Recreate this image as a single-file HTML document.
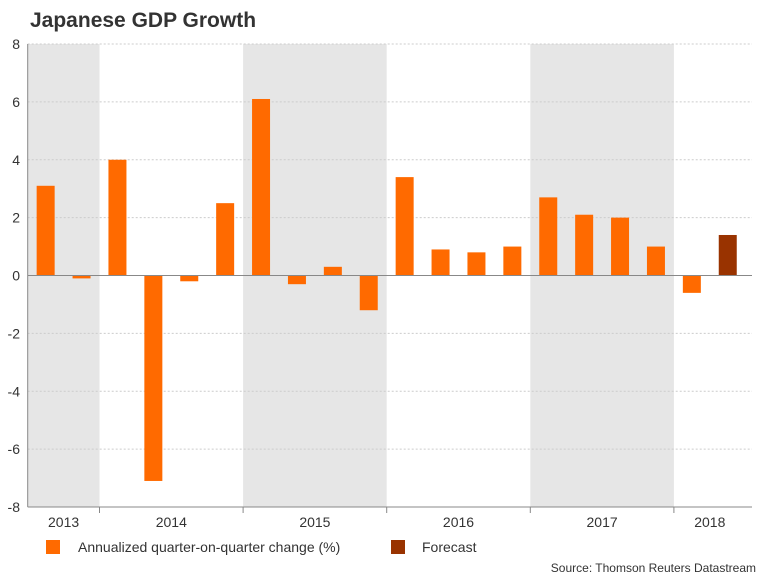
<!DOCTYPE html>
<html><head><meta charset="utf-8"><style>
body{margin:0;background:#fff;}
svg text{font-family:"Liberation Sans",Arial,sans-serif;}
</style></head><body>
<svg id="chart" width="768" height="576">
<text x="30" y="27" font-size="21" font-weight="bold" fill="#333">Japanese GDP Growth</text>
<g id="bands"></g><g id="grid"></g><g id="bars"></g><g id="axes"></g>
<rect x="46" y="540" width="14" height="14" fill="#ff6a00"/>
<text x="78" y="552" font-size="14" fill="#333">Annualized quarter-on-quarter change (%)</text>
<rect x="391" y="540" width="14" height="14" fill="#993300"/>
<text x="422" y="552" font-size="14" fill="#333">Forecast</text>
<text x="756" y="572" font-size="12" fill="#333" text-anchor="end">Source: Thomson Reuters Datastream</text>
</svg>
<script>
const values=[3.1,-0.1,4.0,-7.1,-0.2,2.5,6.1,-0.3,0.3,-1.2,3.4,0.9,0.8,1.0,2.7,2.1,2.0,1.0,-0.6,1.4];
const forecast=[false,false,false,false,false,false,false,false,false,false,false,false,false,false,false,false,false,false,false,true];
const years=["2013","2014","2015","2016","2017","2018"];
const yearQuarters=[2,4,4,4,4,2];
const yTicks=[-8,-6,-4,-2,0,2,4,6,8];
const NS="http://www.w3.org/2000/svg";
const X0=27.7,SW=35.9,Y0=44,Y1=507,XR=752;
const y=v=>Y0+(8-v)*(Y1-Y0)/16;
const x=i=>X0+i*SW;
function mk(t,a,p){const e=document.createElementNS(NS,t);for(const k in a)e.setAttribute(k,a[k]);document.getElementById(p).appendChild(e);return e;}
let q=0;
years.forEach((yr,j)=>{
 const x1=x(q),x2=x(q+yearQuarters[j]);
 if(j%2===0){const r=mk('rect',{x:x1,y:Y0,width:x2-x1,height:Y1-Y0,fill:'#e6e6e6'},'bands');
 
 }
 const t=mk('text',{x:(x1+x2)/2,y:527,'font-size':14,fill:'#333','text-anchor':'middle'},'axes');t.textContent=yr;
 
 
 if(j<years.length-1){const l=mk('line',{x1:x2,x2:x2,y1:Y1,y2:Y1+6,stroke:'#888'},'axes');
 
 }
 q+=yearQuarters[j];
});
yTicks.forEach(v=>{
 if(v!==0&&v!==-8){const g=mk('line',{x1:X0,x2:XR,y1:y(v),y2:y(v),stroke:'#ccc','stroke-dasharray':'2,2'},'grid');
 
 }
 const t=mk('text',{x:20,y:y(v)+5,'font-size':14,fill:'#333','text-anchor':'end'},'axes');t.textContent=v;
 
 
});
values.forEach((v,i)=>{
 const cx=x(i)+SW/2;
 const b=mk('rect',{x:cx-9,y:Math.min(y(v),y(0)),width:18,height:Math.abs(y(v)-y(0)),fill:forecast[i]?'#993300':'#ff6a00'},'bars');
 
 
});
const z=mk('line',{x1:X0,x2:XR,y1:y(0),y2:y(0),stroke:'#888'},'axes');


const xa=mk('line',{x1:X0,x2:XR,y1:Y1,y2:Y1,stroke:'#888'},'axes');


const ya=mk('line',{x1:X0,x2:X0,y1:Y0,y2:Y1,stroke:'#888'},'axes');


</script>
</body></html>
